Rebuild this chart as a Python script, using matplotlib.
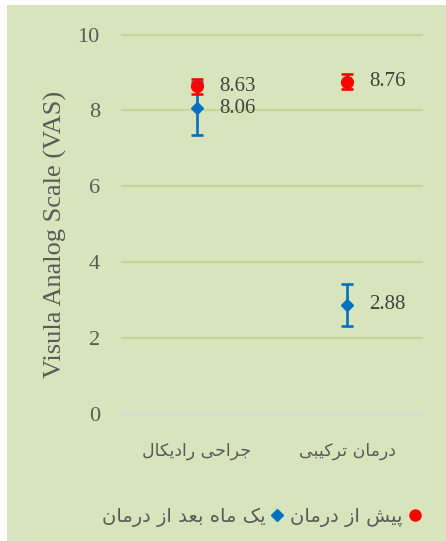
import matplotlib
matplotlib.use("Agg")
import matplotlib.pyplot as plt
from matplotlib.patches import Rectangle

# data
categories = ["جراحی رادیکال", "درمان ترکیبی"]
before_label = "پیش از درمان"
after_label = "یک ماه بعد از درمان"
before_vals = [8.63, 8.76]
before_err = [0.2, 0.2]
after_vals = [8.06, 2.88]
after_err = [0.7, 0.55]
y_ticks = [0, 2, 4, 6, 8, 10]
y_title = "Visula Analog Scale (VAS)"

# arabic/persian letter forms: isolated, final, initial, medial
FORMS = {
    'ا': ('\uFE8D', '\uFE8E', None, None),
    'ب': ('\uFE8F', '\uFE90', '\uFE91', '\uFE92'),
    'پ': ('\uFB56', '\uFB57', '\uFB58', '\uFB59'),
    'ت': ('\uFE95', '\uFE96', '\uFE97', '\uFE98'),
    'ج': ('\uFE9D', '\uFE9E', '\uFE9F', '\uFEA0'),
    'ح': ('\uFEA1', '\uFEA2', '\uFEA3', '\uFEA4'),
    'د': ('\uFEA9', '\uFEAA', None, None),
    'ر': ('\uFEAD', '\uFEAE', None, None),
    'ز': ('\uFEAF', '\uFEB0', None, None),
    'ش': ('\uFEB5', '\uFEB6', '\uFEB7', '\uFEB8'),
    'ع': ('\uFEC9', '\uFECA', '\uFECB', '\uFECC'),
    'ک': ('\uFB8E', '\uFB8F', '\uFB90', '\uFB91'),
    'ل': ('\uFEDD', '\uFEDE', '\uFEDF', '\uFEE0'),
    'م': ('\uFEE1', '\uFEE2', '\uFEE3', '\uFEE4'),
    'ن': ('\uFEE5', '\uFEE6', '\uFEE7', '\uFEE8'),
    'ه': ('\uFEE9', '\uFEEA', '\uFEEB', '\uFEEC'),
    'ی': ('\uFBFC', '\uFBFD', '\uFBFE', '\uFBFF'),
}


def shape(s):
    out = []
    for i, c in enumerate(s):
        if c not in FORMS:
            out.append(c)
            continue
        prev = s[i - 1] if i > 0 else ''
        nxt = s[i + 1] if i + 1 < len(s) else ''
        jp = prev in FORMS and FORMS[prev][2] is not None
        jn = nxt in FORMS and FORMS[c][2] is not None
        iso, fin, ini, med = FORMS[c]
        if jp and jn:
            out.append(med)
        elif jp:
            out.append(fin)
        elif jn:
            out.append(ini)
        else:
            out.append(iso)
    return ''.join(out)[::-1]


bg = "#D8E4BC"
grid_c = "#C4D79B"
txt_c = "#595959"

fig = plt.figure(figsize=(4.46, 5.41), dpi=100)
fig.patch.set_facecolor("white")
fig.patches.append(Rectangle((7 / 446, 0), 1, 1 - 5 / 541, transform=fig.transFigure,
                             facecolor=bg, edgecolor="none", zorder=-10))

ax = fig.add_axes([122 / 446, 1 - 414 / 541, 300 / 446, 379.5 / 541])
ax.set_facecolor("none")
ax.set_zorder(1)
x = list(range(len(categories)))

ax.errorbar(x, after_vals, yerr=after_err, fmt="D", color="#0070C0", markersize=6.5,
            elinewidth=1.9, capsize=4.3, capthick=1.9, zorder=3)
ax.errorbar(x, before_vals, yerr=before_err, fmt="o", color="#FF0000", markersize=8.5,
            elinewidth=1.9, capsize=4.3, capthick=1.9, zorder=4)

for xi, v in zip(x, before_vals):
    ax.annotate(f"{v:.2f}", (xi, v), xytext=(16, 0), textcoords="offset points",
                va="center", ha="left", fontsize=15, family="Liberation Serif", color="#404040")
for xi, v in zip(x, after_vals):
    ax.annotate(f"{v:.2f}", (xi, v), xytext=(16, 0), textcoords="offset points",
                va="center", ha="left", fontsize=15, family="Liberation Serif", color="#404040")

ax.set_xlim(-0.5, 1.5)
ax.set_ylim(0, 10)
ax.set_yticks(y_ticks)
ax.set_yticklabels([str(t) for t in y_ticks], family="Liberation Serif", fontsize=16, color=txt_c)
ax.set_xticks(x)
ax.set_xticklabels([shape(c) for c in categories], family="DejaVu Sans", fontsize=12.5, color=txt_c)
ax.tick_params(axis="both", length=0)
ax.tick_params(axis="y", pad=16)
ax.tick_params(axis="x", pad=20)
ax.grid(axis="y", color=grid_c, linewidth=1.4)
for gl in ax.get_ygridlines():
    gl.set_clip_on(False)
for s in ["top", "right", "left"]:
    ax.spines[s].set_visible(False)
ax.spines["bottom"].set_color("#D9D9D9")
ax.spines["bottom"].set_linewidth(1.4)

fig.text(55 / 446, 1 - 234 / 541, y_title, rotation=90, ha="center", va="center",
         family="Liberation Serif", fontsize=19, color=txt_c)

h_after = plt.Line2D([], [], marker="D", color="#0070C0", linestyle="none", markersize=6)
h_before = plt.Line2D([], [], marker="o", color="#FF0000", linestyle="none", markersize=8)
leg = fig.legend([h_after, h_before], [shape(after_label), shape(before_label)],
                 loc="center", bbox_to_anchor=(262 / 446, 1 - 517 / 541), ncol=2,
                 markerfirst=False, frameon=False, handlelength=0.8, handletextpad=0.2,
                 columnspacing=0.3, prop={"family": "DejaVu Sans", "size": 14})
for t in leg.get_texts():
    t.set_color(txt_c)

fig.savefig("out.png", dpi=100)
